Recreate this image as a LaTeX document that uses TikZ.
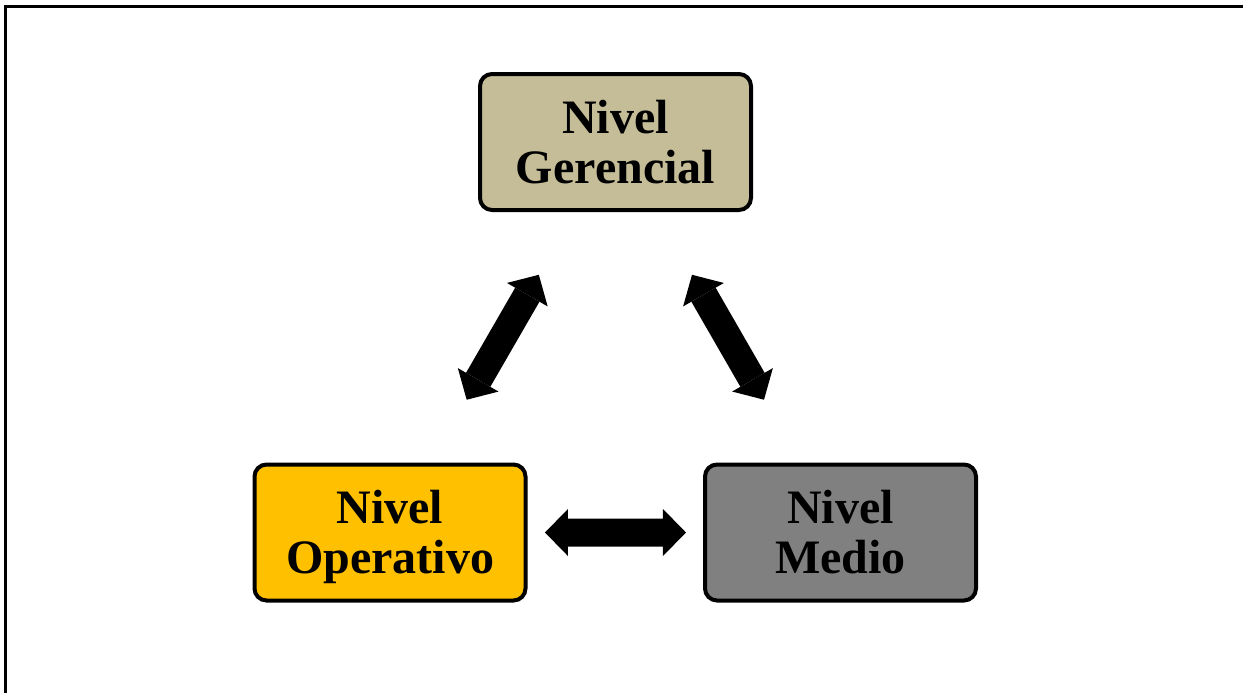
\documentclass[tikz,border=0pt]{standalone}
\usepackage{fontspec}
\setmainfont{Liberation Serif}
\usetikzlibrary{arrows.meta,calc}
\definecolor{gerFill}{RGB}{196,189,151}
\definecolor{opeFill}{RGB}{255,192,0}
\definecolor{medFill}{RGB}{128,128,128}
\tikzset{
  nivel/.style={draw=black,line width=2pt,rounded corners=6pt,
        minimum width=135.5pt,minimum height=68pt,inner sep=0pt,
        align=center,font=\bfseries\fontsize{24}{25}\selectfont,
        execute at begin node=\rule{0pt}{47pt},
        execute at end node=\rule[-6pt]{0pt}{6pt}},
  flujo/.style={line width=14pt,
        >={Triangle[length=11.5pt,width=23.5pt,line width=0pt]},<->}
}
\begin{document}
\begin{tikzpicture}[x=0.5pt,y=-0.5pt]
  \useasboundingbox (0,0) rectangle (1243,692);
  % marco de la figura
  \draw[line width=1.5pt] (5.5,700) -- (5.5,6.5) -- (1250,6.5);
  % niveles
  \node[nivel,fill=gerFill] (ger) at (615.5,142) {Nivel\\Gerencial};
  \node[nivel,fill=opeFill] (ope) at (390,532.5) {Nivel\\Operativo};
  \node[nivel,fill=medFill] (med) at (840.5,532.5) {Nivel\\Medio};
  % flechas entre niveles
  \draw[flujo] ($(ger)!0.34!(ope)$) -- ($(ger)!0.66!(ope)$);
  \draw[flujo] ($(ger)!0.34!(med)$) -- ($(ger)!0.66!(med)$);
  \draw[flujo] ($(ope)!0.344!(med)$) -- ($(ope)!0.657!(med)$);
\end{tikzpicture}
\end{document}
